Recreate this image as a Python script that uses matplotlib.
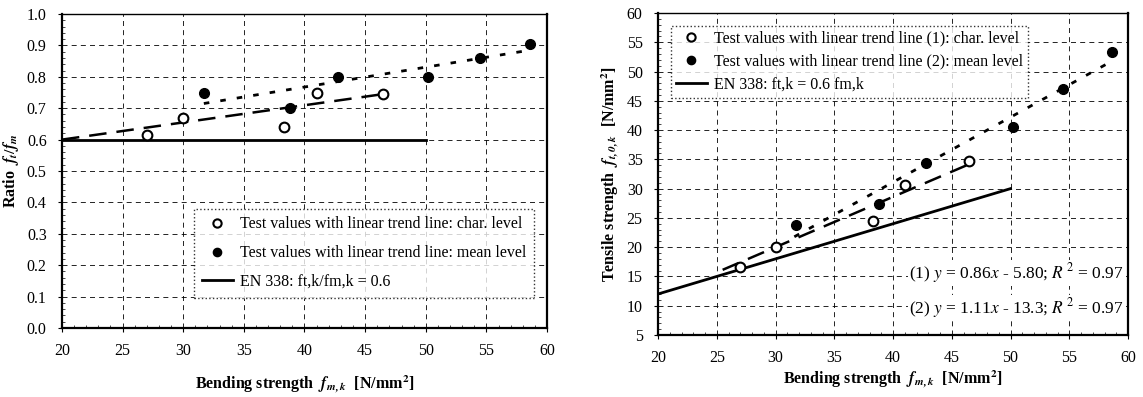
import matplotlib.pyplot as plt
import numpy as np

plt.rcParams['font.family'] = ['Liberation Serif', 'DejaVu Serif']
plt.rcParams['mathtext.fontset'] = 'stix'

# Test values read per group: bending strength, ratio, tensile strength
fm_char = [27.0, 30.0, 38.3, 41.0, 46.5]
ratio_char = [0.615, 0.67, 0.64, 0.75, 0.745]
ft_char = [16.6, 20.1, 24.5, 30.7, 34.7]

fm_mean = [31.7, 38.8, 42.8, 50.2, 54.5, 58.6]
ratio_mean = [0.75, 0.70, 0.80, 0.80, 0.86, 0.905]
ft_mean = [23.8, 27.3, 34.3, 40.5, 47.0, 53.3]

# trend lines (ratio plot) as end points
ratio_trend_char_x = [20.0, 46.5]
ratio_trend_char_y = [0.60, 0.745]
ratio_trend_mean_x = [31.7, 58.6]
ratio_trend_mean_y = [0.715, 0.885]

# regression coefficients (tensile plot)
k1, d1 = 0.86, -5.80
k2, d2 = 1.11, -13.3
en338 = 0.6
en338_x = [20.0, 50.0]

fig = plt.figure(figsize=(11.43, 3.97), dpi=100)
ax1 = fig.add_axes([0.0542, 0.1738, 0.4244, 0.7909])
ax2 = fig.add_axes([0.5757, 0.1562, 0.4112, 0.8111])


def style_axes(ax):
    ax.grid(True, which='major', color='black', linestyle=(0, (6, 5)), linewidth=0.6)
    ax.set_axisbelow(True)
    for s in ['left', 'bottom', 'right']:
        ax.spines[s].set_linewidth(1.6)
    ax.spines['top'].set_linewidth(1.0)
    ax.tick_params(which='major', direction='out', length=3, width=0.8, labelsize=11.5, pad=8)
    ax.minorticks_on()
    ax.tick_params(which='minor', direction='in', length=2, width=0.5)


xlab = 'Bending strength  $\\mathbfit{f}_{\\mathbfit{m,k}}$  [N/mm$^\\mathbf{2}$]'

# --- Verhaeltnis ft/fm ---
ax1.plot(ratio_trend_char_x, ratio_trend_char_y, color='black', linestyle=(0, (7, 4)), linewidth=1.8)
ax1.plot(ratio_trend_mean_x, ratio_trend_mean_y, color='black', linestyle=(0, (2, 4)), linewidth=2.0)
ax1.plot(en338_x, [en338, en338], color='black', linewidth=2.0, label='EN 338: ft,k/fm,k = 0.6')
ax1.plot(fm_char, ratio_char, 'o', mfc='white', mec='black', mew=1.5, ms=7,
         label='Test values with linear trend line: char. level')
ax1.plot(fm_mean, ratio_mean, 'o', mfc='black', mec='black', ms=7,
         label='Test values with linear trend line: mean level')
ax1.set_xlim(20, 60)
ax1.set_ylim(0, 1.0)
ax1.set_xticks(np.arange(20, 61, 5))
ax1.set_yticks(np.arange(0, 1.01, 0.1))
ax1.set_yticklabels(['%.1f' % v for v in np.arange(0, 1.01, 0.1)])
ax1.yaxis.set_minor_locator(plt.MultipleLocator(0.02))
ax1.xaxis.set_minor_locator(plt.MultipleLocator(1))
style_axes(ax1)
ax1.set_xlabel(xlab, fontsize=11.5, fontweight='bold', labelpad=10)
ax1.set_ylabel('Ratio  $\\mathbfit{f}_{\\mathbfit{t}}/\\mathbfit{f}_{\\mathbfit{m}}$', fontsize=11.5, fontweight='bold', labelpad=4)
h, l = ax1.get_legend_handles_labels()
leg1 = ax1.legend([h[1], h[2], h[0]], [l[1], l[2], l[0]], loc='lower right',
                  bbox_to_anchor=(0.99, 0.07), fontsize=11.5, frameon=True, fancybox=False,
                  handlelength=2.0, handletextpad=0.4, borderpad=0.5, labelspacing=0.8,
                  markerscale=0.85)
leg1.get_frame().set_edgecolor('black')
leg1.get_frame().set_linestyle(':')
leg1.get_frame().set_linewidth(1.0)

# --- Zugfestigkeit vs Biegefestigkeit ---
x1 = np.array([25.5, 46.5])
x2 = np.array([31.6, 58.5])
ax2.plot(x1, k1 * x1 + d1, color='black', linestyle=(0, (7, 4)), linewidth=1.8)
ax2.plot(x2, k2 * x2 + d2, color='black', linestyle=(0, (2, 4)), linewidth=2.0)
ax2.plot(en338_x, en338 * np.array(en338_x), color='black', linewidth=2.0,
         label='EN 338: ft,k = 0.6 fm,k')
ax2.plot(fm_char, ft_char, 'o', mfc='white', mec='black', mew=1.5, ms=7,
         label='Test values with linear trend line (1): char. level')
ax2.plot(fm_mean, ft_mean, 'o', mfc='black', mec='black', ms=7,
         label='Test values with linear trend line (2): mean level')
ax2.set_xlim(20, 60)
ax2.set_ylim(5, 60)
ax2.set_xticks(np.arange(20, 61, 5))
ax2.set_yticks(np.arange(5, 61, 5))
ax2.yaxis.set_minor_locator(plt.MultipleLocator(1))
ax2.xaxis.set_minor_locator(plt.MultipleLocator(1))
style_axes(ax2)
ax2.set_xlabel(xlab, fontsize=11.5, fontweight='bold', labelpad=2)
ax2.set_ylabel('Tensile strength  $\\mathbfit{f}_{\\mathbfit{t,0,k}}$  [N/mm$^\\mathbf{2}$]', fontsize=11.5, fontweight='bold', labelpad=4)
h, l = ax2.get_legend_handles_labels()
leg2 = ax2.legend([h[1], h[2], h[0]], [l[1], l[2], l[0]], loc='upper left',
                  bbox_to_anchor=(0.01, 0.985), fontsize=11.5, frameon=True, fancybox=False,
                  handlelength=2.0, handletextpad=0.4, borderpad=0.3, labelspacing=0.45,
                  markerscale=0.85)
leg2.get_frame().set_edgecolor('black')
leg2.get_frame().set_linestyle(':')
leg2.get_frame().set_linewidth(1.0)

ax2.text(59.6, 15.6, '(1) $y$ = %.2f$x$ - %.2f; $R^{\\,2}$ = 0.97' % (k1, -d1), fontsize=12.5,
         ha='right', va='center', bbox=dict(facecolor='white', edgecolor='none', pad=1))
ax2.text(59.6, 9.6, '(2) $y$ = %.2f$x$ - %.1f; $R^{\\,2}$ = 0.97' % (k2, -d2), fontsize=12.5,
         ha='right', va='center', bbox=dict(facecolor='white', edgecolor='none', pad=1))

fig.savefig('out.png', dpi=100)
